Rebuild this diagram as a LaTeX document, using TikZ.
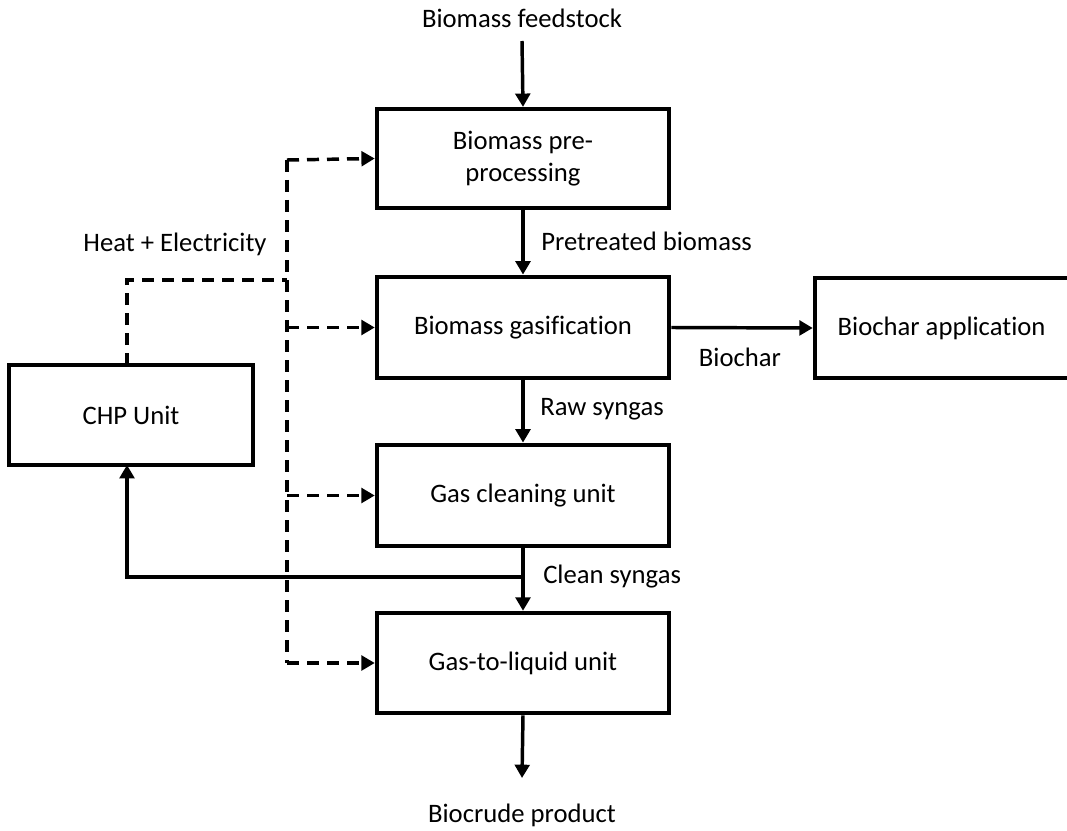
\documentclass[tikz,border=0pt]{standalone}
\usepackage{fontspec}
\setmainfont{Carlito}[Ligatures=NoCommon]
\usetikzlibrary{arrows.meta}
\begin{document}
\begin{tikzpicture}[x=0.75pt,y=-0.75pt,
  every node/.style={font=\fontsize{20}{24}\selectfont},
  box/.style={draw,line width=3.4pt,minimum width=219pt,minimum height=74pt,align=center,inner sep=2pt},
  flow/.style={line width=2.6pt,-{Triangle[length=10pt,width=11pt]}},
  energy/.style={line width=2.6pt,dash pattern=on 9pt off 6pt,-{Triangle[length=10pt,width=11pt]}},
  energyline/.style={line width=2.6pt,dash pattern=on 9pt off 6pt},
  lbl/.style={inner sep=0pt}]
\useasboundingbox (0,0) rectangle (1067,831);
\node[box] (pre) at (523,158.5) {Biomass pre-\\processing};
\node[box,minimum height=76pt] (gas) at (523,327.5) {Biomass gasification};
\node[box,minimum height=76pt] (clean) at (523,495.5) {Gas cleaning unit};
\node[box,minimum height=75pt] (gtl) at (523,663) {Gas-to-liquid unit};
\node[box,minimum width=183pt,minimum height=75pt] (chp) at (131,415) {CHP Unit};
\node[box,minimum width=192pt,minimum height=75pt] (bca) at (943,328) {\makebox[172pt][l]{\hspace{7pt}Biochar application}};
\node[lbl] (feed) at (522,18) {Biomass feedstock};
\node[lbl] (crude) at (522,815) {Biocrude product};
\node[lbl,anchor=west] (ptb) at (541,241) {Pretreated biomass};
\node[lbl] (he) at (175,244) {Heat + Electricity};
\node[lbl] (bc) at (740,357) {Biochar};
\node[lbl,anchor=west] (raw) at (540,409) {Raw syngas};
\node[lbl,anchor=west] (cs) at (543,577) {Clean syngas};
\coordinate (feedend) at (522,41);
\coordinate (crudeend) at (522,778);
\coordinate (split) at (522,577);
\coordinate (splitL) at (127,577);
\coordinate (chpB) at (127,465);
\coordinate (chpT) at (127,365);
\coordinate (chpC) at (127,280);
\coordinate (bus) at (287,280);
\coordinate (busT) at (287,160);
\coordinate (busB) at (287,663);
\draw[flow] (feedend) -- (pre.north);
\draw[flow] (pre.south) -- (gas.north);
\draw[flow] (gas.east) -- (bca.west);
\draw[flow] (gas.south) -- (clean.north);
\draw[flow] (clean.south) -- (gtl.north);
\draw[flow] (gtl.south) -- (crudeend);
\draw[flow] (split) -- (splitL) -- (chpB);
\draw[energyline] (chpT) -- (chpC) -- (bus);
\draw[energyline] (busT) -- (busB);
\draw[energy] (busT) -- (pre.west);
\draw[energy] (287,327.5) -- (gas.west);
\draw[energy] (287,495.5) -- (clean.west);
\draw[energy] (busB) -- (gtl.west);
\end{tikzpicture}
\end{document}
